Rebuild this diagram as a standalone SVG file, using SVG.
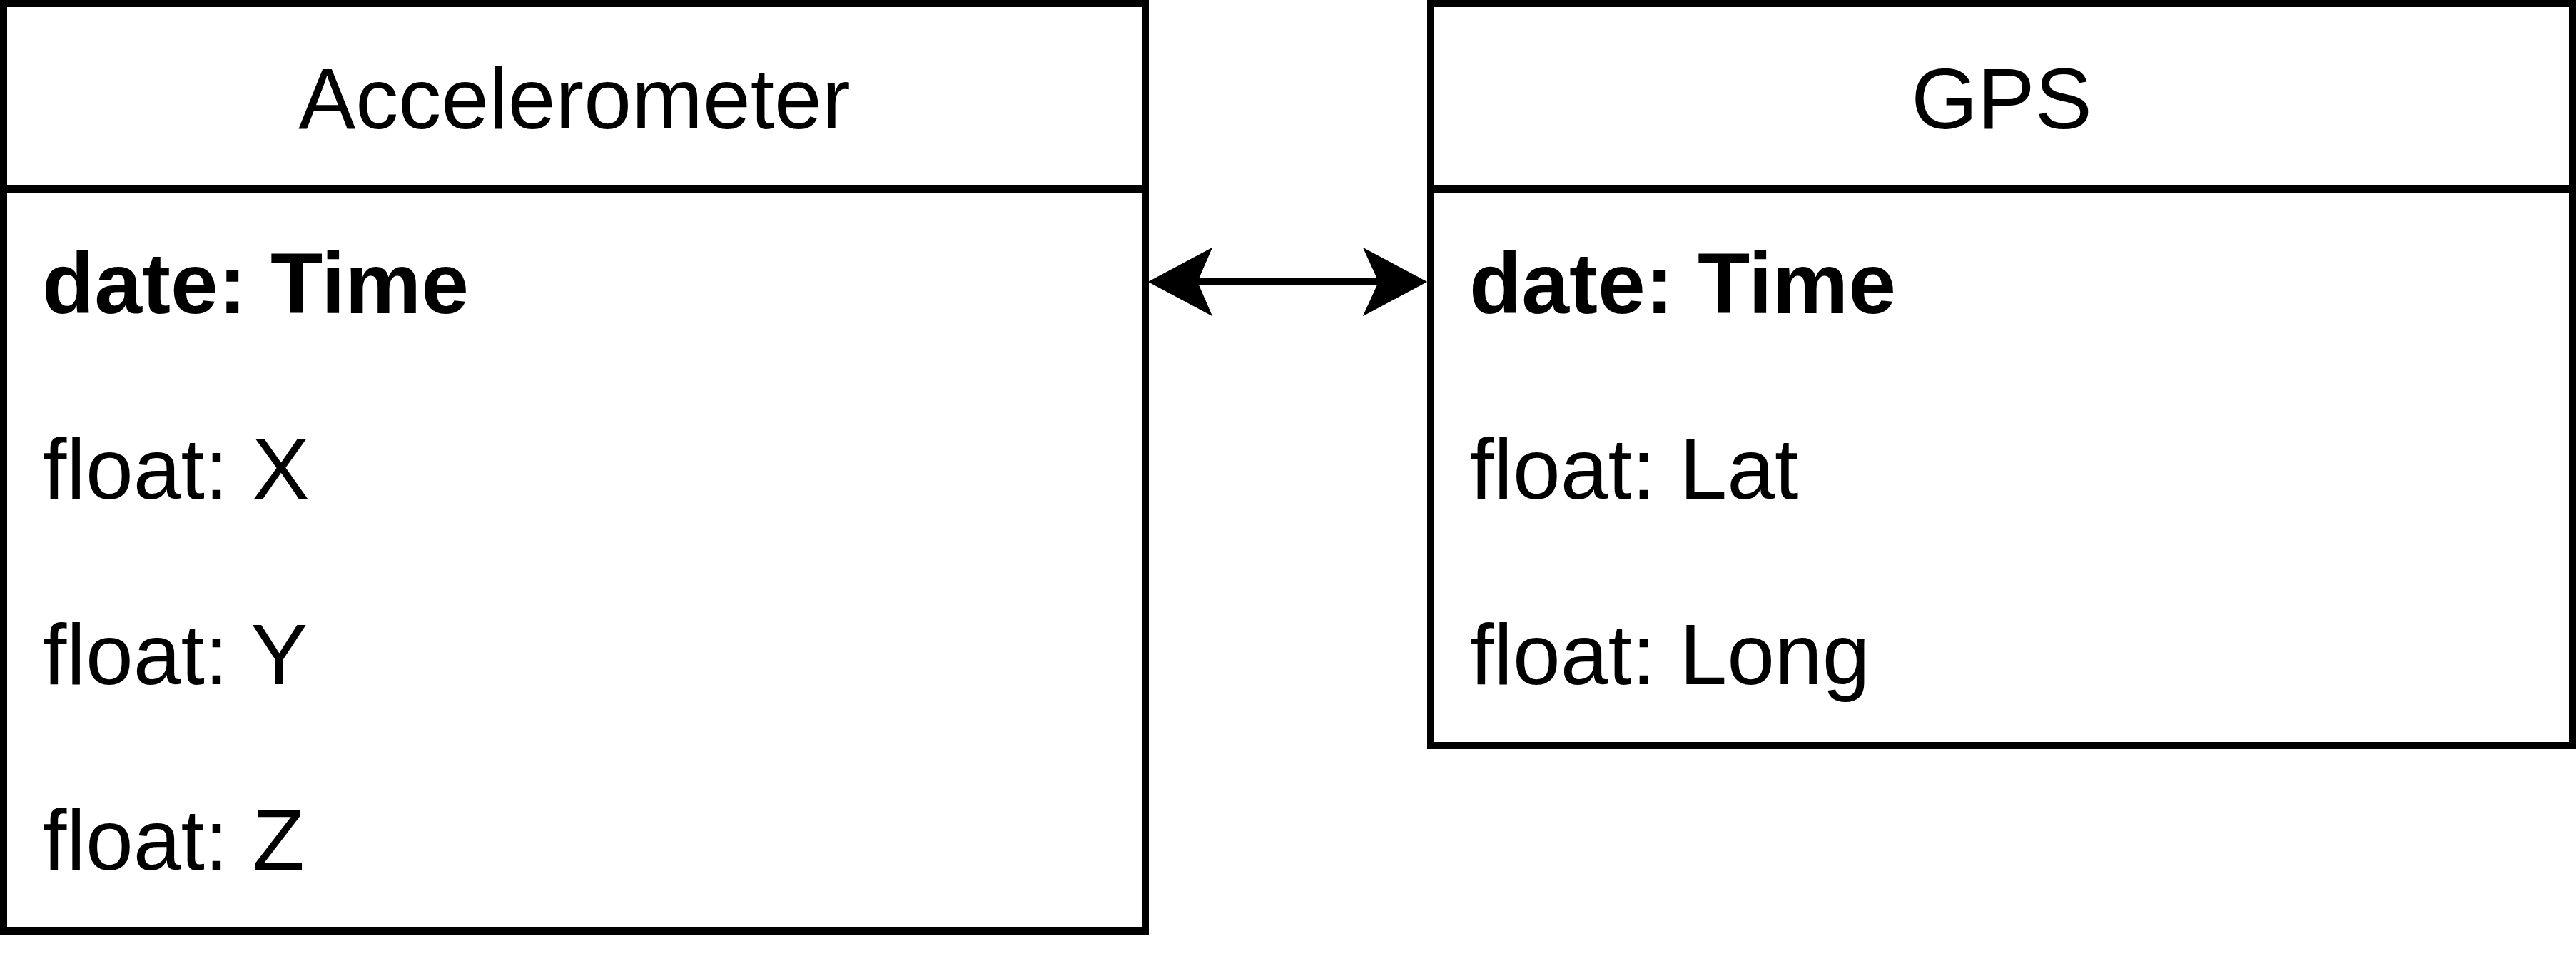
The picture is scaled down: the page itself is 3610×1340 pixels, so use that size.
<svg xmlns="http://www.w3.org/2000/svg" width="3610" height="1340" viewBox="0 0 3610 1340">
<style>
.box{fill:#ffffff;stroke:#000000;stroke-width:10}
.sep{stroke:#000000;stroke-width:10;fill:none}
.t{font-family:"Liberation Sans",Arial,Helvetica,sans-serif;font-size:120px;fill:#000000}
.h{text-anchor:middle}
.b{font-weight:bold}
.conn{stroke:#000000;stroke-width:10;fill:none}
.head{fill:#000000;stroke:#000000;stroke-width:2}
</style>
<rect width="3610" height="1340" fill="#ffffff"/>
<g id="accelerometer">
<rect class="box" x="5" y="5" width="1600" height="1300"/>
<line class="sep" x1="5" y1="265" x2="1605" y2="265"/>
<text class="t h" x="805" y="180">Accelerometer</text>
<text class="t b" x="59" y="439">date: Time</text>
<text class="t" x="60" y="699">float: X</text>
<text class="t" x="60" y="959">float: Y</text>
<text class="t" x="60" y="1219">float: Z</text>
</g>
<g id="gps">
<rect class="box" x="2005" y="5" width="1600" height="1040"/>
<line class="sep" x1="2005" y1="265" x2="3605" y2="265"/>
<text class="t h" x="2805" y="180">GPS</text>
<text class="t b" x="2059" y="439">date: Time</text>
<text class="t" x="2060" y="699">float: Lat</text>
<text class="t" x="2060" y="959">float: Long</text>
</g>
<g id="connectors">
<line class="conn" x1="1670" y1="395" x2="1940" y2="395"/>
<path class="head" d="M1611,395 L1697,349 L1677,395 L1697,441 Z"/>
<path class="head" d="M1998,395 L1912,349 L1933,395 L1912,441 Z"/>
</g>
</svg>
